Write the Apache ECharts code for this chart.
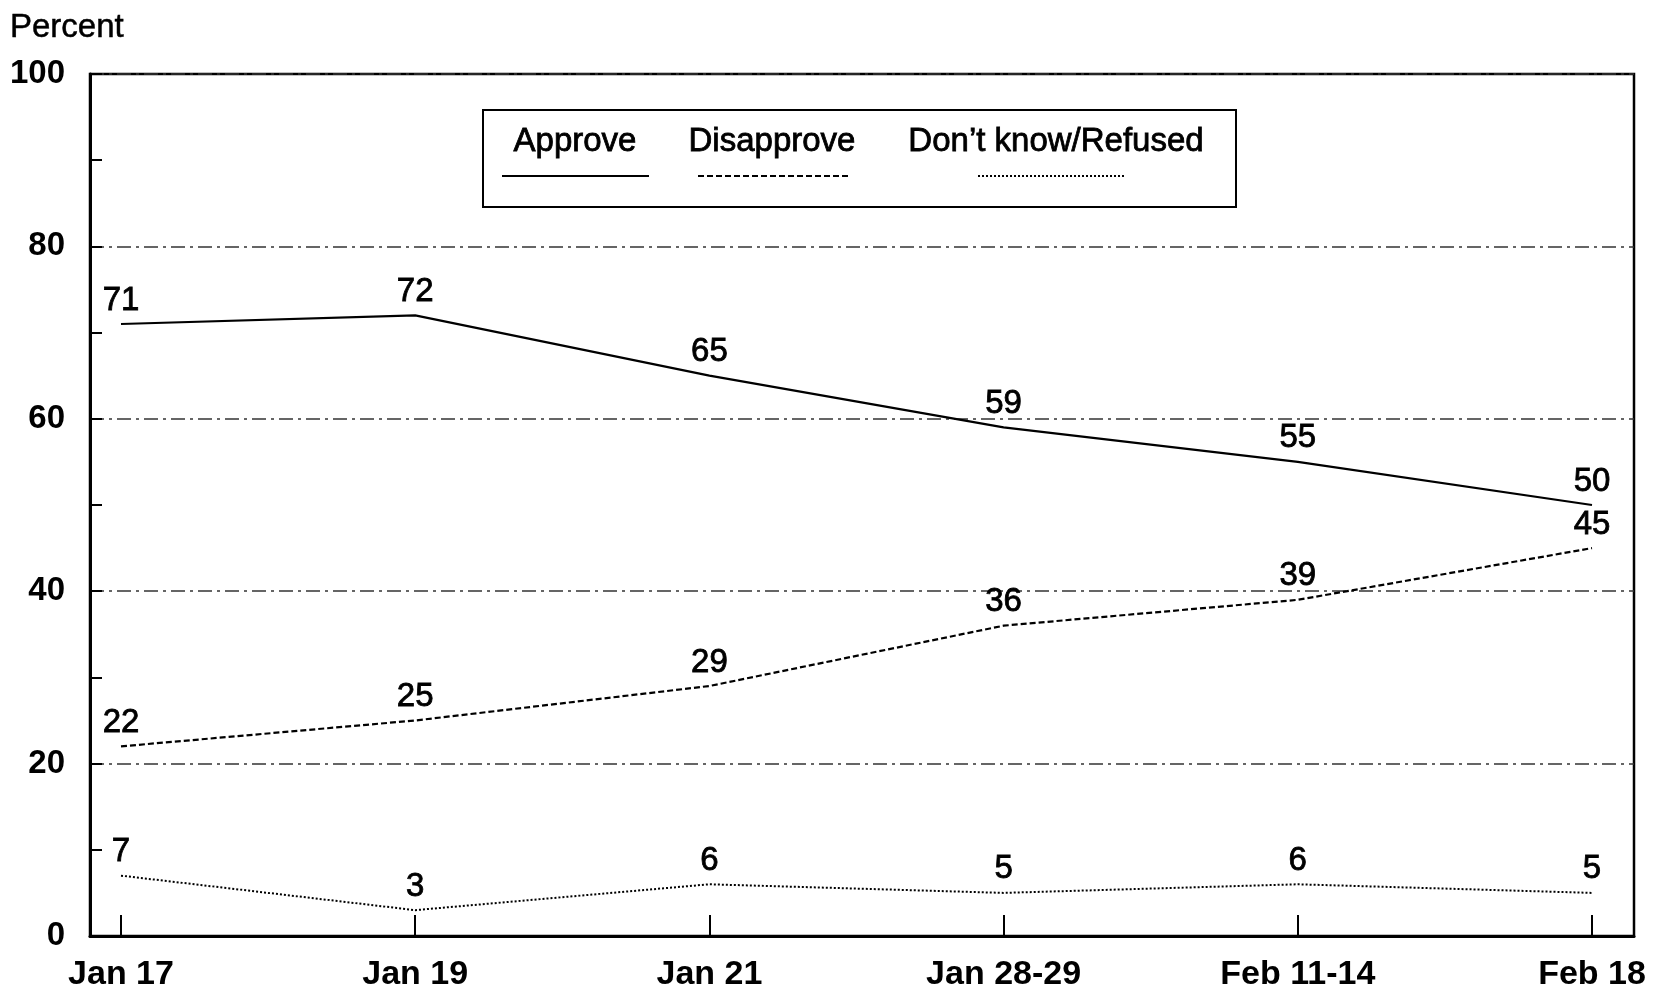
<!DOCTYPE html>
<html>
<head>
<meta charset="utf-8">
<title>Approve / Disapprove</title>
<script src="https://cdn.jsdelivr.net/npm/echarts@6/dist/echarts.min.js"></script>
<style>
  html, body { margin: 0; padding: 0; background: #fff; }
  #chart { width: 1653px; height: 996px; }
</style>
</head>
<body>
<div id="chart"></div>
<script>
// 数据
const categories = ['Jan 17', 'Jan 19', 'Jan 21', 'Jan 28-29', 'Feb 11-14', 'Feb 18']
const approve = [71, 72, 65, 59, 55, 50]
const disapprove = [22, 25, 29, 36, 39, 45]
const dontKnow = [7, 3, 6, 5, 6, 5]
const yTicks = [0, 20, 40, 60, 80, 100]

const FONT = '"Liberation Sans", Arial, sans-serif'
const chart = echarts.init(document.getElementById('chart'), null, { renderer: 'canvas' })

// 文字稍微加粗一点（扫描件里的字偏粗）
const heavy = { textBorderColor: '#000', textBorderWidth: 0.8 }

const labelStyle = {
  show: true,
  position: 'top',
  distance: 7,
  color: '#000',
  fontFamily: FONT,
  fontSize: 33,
  ...heavy
}

function lineSeries (name, data, dash, width) {
  return {
    type: 'line',
    name: name,
    xAxisIndex: 1,
    yAxisIndex: 1,
    data: data,
    symbol: 'circle',
    symbolSize: 0.1,
    showSymbol: true,
    itemStyle: { color: '#000' },
    lineStyle: { color: '#000', width: width, type: dash },
    label: labelStyle,
    silent: true
  }
}

const option = {
  backgroundColor: '#fff',
  animation: false,
  grid: [
    // 外框 + y轴
    { left: 90, right: 19, top: 74, bottom: 60, show: true, borderColor: '#000', borderWidth: 2.5 },
    // 数据点区域
    { left: 121, right: 61, top: 74, bottom: 60 }
  ],
  xAxis: [
    {
      gridIndex: 0,
      type: 'value',
      min: 0,
      max: 1,
      axisLine: { show: true, lineStyle: { color: '#000', width: 3 } },
      axisTick: { show: false },
      axisLabel: { show: false },
      splitLine: { show: false }
    },
    {
      gridIndex: 1,
      type: 'category',
      data: categories,
      boundaryGap: false,
      axisLine: { show: false },
      axisTick: { show: true, inside: true, length: 21, lineStyle: { color: '#000', width: 2 } },
      axisLabel: {
        color: '#000',
        fontFamily: FONT,
        fontWeight: 'bold',
        fontSize: 34,
        margin: 22
      },
      splitLine: { show: false }
    }
  ],
  yAxis: [
    {
      gridIndex: 0,
      type: 'value',
      min: yTicks[0],
      max: yTicks[yTicks.length - 1],
      interval: 20,
      name: 'Percent',
      nameLocation: 'end',
      nameGap: 0,
      nameTextStyle: {
        color: '#000',
        fontFamily: FONT,
        fontSize: 33,
        align: 'left',
        verticalAlign: 'bottom',
        padding: [0, 0, 30, -80],
        ...heavy,
        textBorderWidth: 0.5
      },
      axisLine: { show: true, lineStyle: { color: '#000', width: 3 } },
      axisTick: { show: true, inside: true, length: 12, lineStyle: { color: '#000', width: 2 } },
      minorTick: { show: true, splitNumber: 2, length: 12, lineStyle: { color: '#000', width: 2 } },
      axisLabel: {
        color: '#000',
        fontFamily: FONT,
        fontWeight: 'bold',
        fontSize: 33,
        margin: 25
      },
      splitLine: {
        show: true,
        lineStyle: { color: '#333', width: 1.5, type: [14, 5, 3, 5] }
      }
    },
    {
      gridIndex: 1,
      type: 'value',
      min: 0,
      max: 100,
      show: false
    }
  ],
  graphic: [
    { type: 'rect', silent: true, shape: { x: 483, y: 110, width: 753, height: 97 }, style: { fill: '#fff', stroke: '#000', lineWidth: 2 } },
    { type: 'text', silent: true, x: 575, y: 142, style: { text: 'Approve', fill: '#000', font: '33px ' + FONT, align: 'center', verticalAlign: 'middle', stroke: '#000', lineWidth: 0.8 } },
    { type: 'text', silent: true, x: 772, y: 142, style: { text: 'Disapprove', fill: '#000', font: '33px ' + FONT, align: 'center', verticalAlign: 'middle', stroke: '#000', lineWidth: 0.8 } },
    { type: 'text', silent: true, x: 1056, y: 142, style: { text: 'Don\u2019t know/Refused', fill: '#000', font: '33px ' + FONT, align: 'center', verticalAlign: 'middle', stroke: '#000', lineWidth: 0.8 } },
    { type: 'line', silent: true, shape: { x1: 502, y1: 176, x2: 649, y2: 176 }, style: { stroke: '#000', lineWidth: 2.2 } },
    { type: 'line', silent: true, shape: { x1: 698, y1: 176, x2: 848, y2: 176 }, style: { stroke: '#000', lineWidth: 2.2, lineDash: [6, 3] } },
    { type: 'line', silent: true, shape: { x1: 978, y1: 176, x2: 1124, y2: 176 }, style: { stroke: '#000', lineWidth: 2, lineDash: [2, 2] } }
  ],
  series: [
    lineSeries('Approve', approve, 'solid', 2.2),
    lineSeries('Disapprove', disapprove, [6, 3], 2.2),
    lineSeries('Don\u2019t know/Refused', dontKnow, [2, 2], 2)
  ]
}

chart.setOption(option)
</script>
</body>
</html>
